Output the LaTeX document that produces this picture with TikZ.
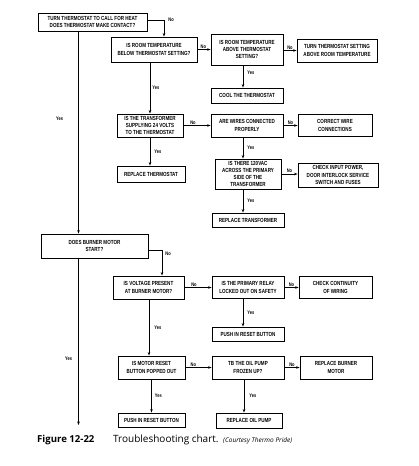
\documentclass[tikz,border=0pt]{standalone}
\usepackage{fontspec}
\newfontfamily\boxfont{Liberation Sans}[FakeStretch=0.77]
\newfontfamily\capfont{Open Sans}
\usetikzlibrary{arrows.meta}
\begin{document}
\begin{tikzpicture}[x=1pt,y=-1pt,
  box/.style={draw, line width=0.9pt, inner sep=0pt, align=center,
    font=\boxfont\bfseries\fontsize{5.9}{7.2}\selectfont},
  arr/.style={draw, line width=0.8pt, -{Stealth[length=3.5pt,width=2.6pt]}},
  lbl/.style={font=\boxfont\bfseries\fontsize{5.2}{6}\selectfont, inner sep=1pt},
  captext/.style={anchor=base west, inner sep=0pt}]
\useasboundingbox (0,0) rectangle (419,466);
% boxes
\node[box, minimum width=109, minimum height=18] (b1) at (92.5,22) {TURN THERMOSTAT TO CALL FOR HEAT\\DOES THERMOSTAT MAKE CONTACT?};
\node[box, minimum width=86, minimum height=25] (b2) at (154,49.5) {IS ROOM TEMPERATURE\\BELOW THERMOSTAT SETTING?};
\node[box, minimum width=72, minimum height=31] (b3) at (247,49.5) {IS ROOM TEMPERATURE\\ABOVE THERMOSTAT\\SETTING?};
\node[box, minimum width=80, minimum height=23] (b4) at (337,50.5) {TURN THERMOSTAT SETTING\\ABOVE ROOM TEMPERATURE};
\node[box, minimum width=72, minimum height=15] (bcool) at (247,95.5) {COOL THE THERMOSTAT};
\node[box, minimum width=66, minimum height=23] (b5) at (150,125.5) {IS THE TRANSFORMER\\SUPPLYING 24 VOLTS\\TO THE THERMOSTAT};
\node[box, minimum width=72, minimum height=23] (b6) at (247,125.5) {ARE WIRES CONNECTED\\PROPERLY};
\node[box, minimum width=74, minimum height=22] (b7) at (335,125.5) {CORRECT WIRE\\CONNECTIONS};
\node[box, minimum width=66, minimum height=30] (b8) at (248,174) {IS THERE 120VAC\\ACROSS THE PRIMARY\\SIDE OF THE\\TRANSFORMER};
\node[box, minimum width=80, minimum height=24] (b9) at (338,175) {CHECK INPUT POWER,\\DOOR INTERLOCK SERVICE\\SWITCH AND FUSES};
\node[box, minimum width=72, minimum height=14] (b10) at (248,220) {REPLACE TRANSFORMER};
\node[box, minimum width=68, minimum height=16] (b11) at (151,174) {REPLACE THERMOSTAT};
\node[box, minimum width=107, minimum height=24] (bdbm) at (94.5,246) {DOES BURNER MOTOR\\START?};
\node[box, minimum width=71, minimum height=23] (b13) at (148.5,287.5) {IS VOLTAGE PRESENT\\AT BURNER MOTOR?};
\node[box, minimum width=72, minimum height=22] (b14) at (248,287.5) {IS THE PRIMARY RELAY\\LOCKED OUT ON SAFETY};
\node[box, minimum width=73, minimum height=22] (b15) at (335.5,287.5) {CHECK CONTINUITY\\OF WIRING};
\node[box, minimum width=72, minimum height=14] (b16) at (248,334) {PUSH IN RESET BUTTON};
\node[box, minimum width=67, minimum height=23] (b17) at (151.5,367.5) {IS MOTOR RESET\\BUTTON POPPED OUT};
\node[box, minimum width=72, minimum height=23] (b18) at (248,367.5) {TB THE OIL PUMP\\FROZEN UP?};
\node[box, minimum width=72, minimum height=23] (b19) at (336,367.5) {REPLACE BURNER\\MOTOR};
\node[box, minimum width=66, minimum height=15] (b20) at (249,420.5) {REPLACE OIL PUMP};
\node[box, minimum width=67, minimum height=14] (b21) at (151.5,420) {PUSH IN RESET BUTTON};
% trunk coordinates
\coordinate (trunk) at (78.5,0);
\coordinate (tend) at (78.5,425);
% connectors
\draw[arr] ([yshift=2pt]b1.east) -| node[lbl, pos=0.5, anchor=west, xshift=3pt]{No} ([xshift=10pt]b2.north);
\draw[arr] (b2.east) -- node[lbl, above, pos=0.45]{No} (b2.east -| b3.west);
\draw[arr] (b3.east |- b4.west) -- node[lbl, above]{No} (b4.west);
\draw[arr] ([xshift=-4pt]b3.south) -- node[lbl, right=3pt, pos=0.35]{Yes} ([xshift=-4pt]b3.south |- bcool.north);
\draw[arr] (b5.north |- b2.south) -- node[lbl, right=1pt, pos=0.5]{Yes} (b5.north);
\draw[arr] (b5.east) -- node[lbl, above, pos=0.35]{No} (b5.east -| b6.west);
\draw[arr] (b6.east) -- node[lbl, above]{No} (b6.east -| b7.west);
\draw[arr] ([xshift=-4pt]b6.south) -- node[lbl, right=3pt]{Yes} ([xshift=-4pt]b6.south |- b8.north);
\draw[arr] (b8.east) -- node[lbl, above]{No} (b8.east -| b9.west);
\draw[arr] ([xshift=-5pt]b8.south) -- node[lbl, right=3pt]{Yes} ([xshift=-5pt]b8.south |- b10.north);
\draw[arr] (b5.south) -- node[lbl, right=3pt]{Yes} (b5.south |- b11.north);
\draw[arr] (b1.south -| trunk) -- node[lbl, left=14pt, pos=0.43]{Yes} (trunk |- bdbm.north);
\draw[arr] ([yshift=-4pt]bdbm.east) -| node[lbl, pos=0.5, anchor=west, xshift=2pt, yshift=-4pt]{No} ([xshift=13.5pt]b13.north);
\draw[arr] (bdbm.south -| trunk) -- node[lbl, left=5pt, pos=0.6]{Yes} (tend);
\draw[arr] (b13.east) -- node[lbl, above, pos=0.35]{No} (b13.east -| b14.west);
\draw[arr] (b14.east) -- node[lbl, above]{No} (b14.east -| b15.west);
\draw[arr] ([xshift=-5pt]b14.south) -- node[lbl, right=3pt]{Yes} ([xshift=-5pt]b14.south |- b16.north);
\draw[arr] ([xshift=0.5pt]b13.south) -- node[lbl, right=4pt]{Yes} ([xshift=0.5pt]b13.south |- b17.north);
\draw[arr] (b17.east) -- node[lbl, above, pos=0.3]{No} (b17.east -| b18.west);
\draw[arr] (b18.east) -- node[lbl, above]{No} (b18.east -| b19.west);
\draw[arr] ([xshift=-4pt]b18.south) -- node[lbl, right=4pt]{Yes} ([xshift=-4pt]b18.south |- b20.north);
\draw[arr] (b17.south) -- node[lbl, right=2pt]{Yes} (b17.south |- b21.north);
% caption
\node[captext, font=\capfont\bfseries\fontsize{9.6}{11}\selectfont] (fig) at (37,442) {Figure 12-22};
\node[captext, font=\capfont\fontsize{10}{11}\selectfont] (tit) at (113,442) {Troubleshooting chart.};
\node[captext, font=\capfont\itshape\fontsize{6.5}{7}\selectfont] (court) at (223,442) {(Courtesy Thermo Pride)};
\end{tikzpicture}
\end{document}
